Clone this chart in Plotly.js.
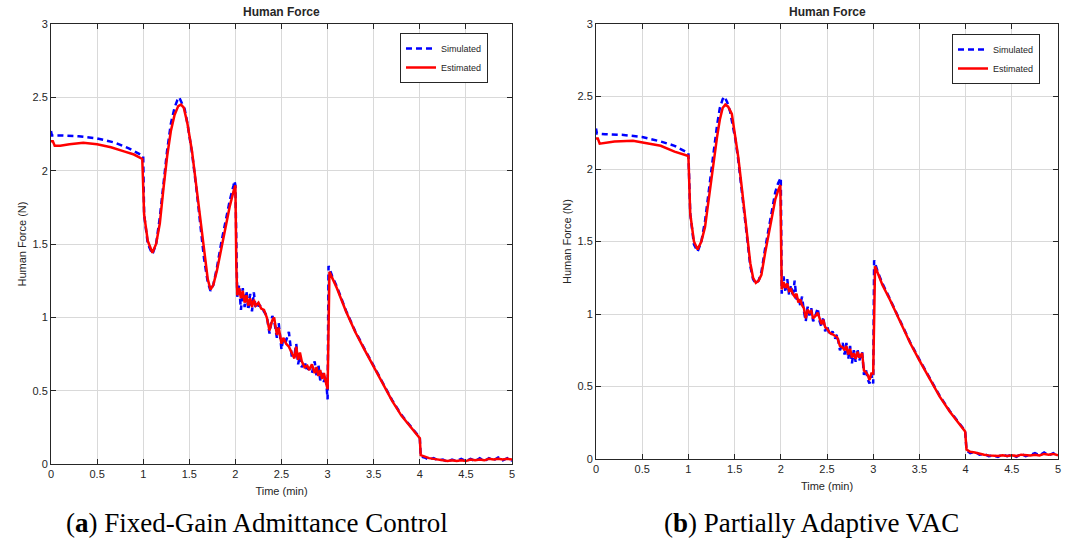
<!DOCTYPE html>
<html>
<head>
<meta charset="utf-8">
<script src="https://cdn.plot.ly/plotly-3.0.1.min.js"></script>
<style>html,body{margin:0;padding:0;background:#fff;}#chart{width:1072px;height:542px;}</style>
</head>
<body>
<div id="chart"></div>
<script>
// ---- Data ----
const tEstA = [0,0.02,0.04,0.1,0.2,0.35,0.5,0.65,0.8,0.9,0.99,1.01,1.05,1.10,1.14,1.18,1.22,1.26,1.30,1.34,1.38,1.41,1.44,1.48,1.53,1.58,1.62,1.66,1.70,1.73,1.76,1.80,1.85,1.90,1.94,1.98,2.00,2.01,2.02,2.04,2.06,2.08,2.10,2.12,2.14,2.16,2.18,2.20,2.22,2.25,2.28,2.31,2.34,2.37,2.40,2.42,2.45,2.47,2.50,2.52,2.55,2.58,2.61,2.64,2.66,2.68,2.70,2.72,2.75,2.78,2.80,2.83,2.86,2.88,2.90,2.92,2.94,2.96,2.98,3.00,3.02,3.05,3.10,3.20,3.30,3.40,3.50,3.60,3.70,3.80,3.90,4.00,4.01,4.05,4.10,4.15,4.20,4.25,4.30,4.35,4.40,4.45,4.50,4.55,4.60,4.65,4.70,4.75,4.80,4.85,4.90,4.95,5.00];
const fEstA = [2.20,2.20,2.17,2.17,2.18,2.19,2.18,2.16,2.13,2.11,2.08,1.70,1.52,1.44,1.50,1.64,1.88,2.10,2.27,2.38,2.44,2.45,2.43,2.32,2.13,1.87,1.64,1.43,1.26,1.19,1.22,1.32,1.48,1.64,1.76,1.86,1.90,1.35,1.15,1.20,1.13,1.18,1.10,1.15,1.08,1.13,1.07,1.12,1.08,1.10,1.06,1.05,1.00,0.91,0.98,1.00,0.88,0.93,0.82,0.86,0.82,0.80,0.76,0.72,0.80,0.71,0.76,0.70,0.66,0.67,0.64,0.68,0.62,0.66,0.60,0.64,0.58,0.62,0.56,0.51,1.31,1.27,1.20,1.04,0.90,0.78,0.66,0.54,0.43,0.33,0.25,0.175,0.06,0.05,0.04,0.035,0.03,0.025,0.02,0.025,0.02,0.025,0.02,0.03,0.025,0.03,0.025,0.035,0.03,0.035,0.03,0.035,0.03];

const tSimA = [0,0.01,0.1,0.3,0.5,0.7,0.85,0.98,1.00,1.01,1.05,1.10,1.14,1.18,1.22,1.26,1.30,1.34,1.37,1.39,1.42,1.45,1.48,1.53,1.58,1.62,1.66,1.70,1.73,1.76,1.80,1.85,1.90,1.94,1.98,1.99,2.00,2.01,2.02,2.04,2.06,2.08,2.10,2.12,2.14,2.16,2.18,2.20,2.22,2.25,2.28,2.31,2.34,2.37,2.40,2.42,2.45,2.47,2.50,2.52,2.55,2.58,2.61,2.64,2.66,2.68,2.70,2.72,2.75,2.78,2.80,2.83,2.86,2.88,2.90,2.92,2.94,2.96,2.98,3.00,3.01,3.05,3.10,3.20,3.30,3.40,3.50,3.60,3.70,3.80,3.90,4.00,4.01,4.05,4.10,4.15,4.20,4.25,4.30,4.35,4.40,4.45,4.50,4.55,4.60,4.65,4.70,4.75,4.80,4.85,4.90,4.95,5.00];
const fSimA = [2.27,2.24,2.24,2.235,2.22,2.19,2.15,2.11,2.10,1.70,1.50,1.43,1.50,1.68,1.92,2.14,2.32,2.43,2.48,2.50,2.46,2.42,2.32,2.12,1.86,1.62,1.40,1.24,1.18,1.22,1.34,1.52,1.68,1.80,1.90,1.93,1.90,1.30,1.14,1.22,1.05,1.20,1.07,1.18,1.05,1.16,1.04,1.17,1.06,1.09,1.07,1.04,1.01,0.89,1.01,0.98,0.86,0.96,0.78,0.86,0.84,0.90,0.74,0.74,0.82,0.68,0.74,0.66,0.70,0.63,0.66,0.62,0.70,0.60,0.68,0.57,0.62,0.56,0.60,0.44,1.35,1.28,1.21,1.045,0.905,0.785,0.665,0.545,0.435,0.335,0.255,0.18,0.05,0.045,0.03,0.04,0.025,0.03,0.015,0.03,0.02,0.035,0.02,0.035,0.02,0.04,0.02,0.04,0.025,0.045,0.025,0.04,0.02];

const tEstB = [0,0.02,0.04,0.1,0.2,0.4,0.55,0.7,0.85,0.99,1.00,1.02,1.06,1.10,1.14,1.18,1.22,1.27,1.31,1.34,1.37,1.40,1.43,1.47,1.51,1.54,1.58,1.61,1.64,1.67,1.70,1.73,1.76,1.79,1.83,1.87,1.91,1.94,1.97,1.995,2.01,2.03,2.05,2.07,2.09,2.11,2.13,2.15,2.17,2.19,2.21,2.23,2.25,2.27,2.29,2.31,2.33,2.35,2.38,2.40,2.42,2.44,2.46,2.48,2.50,2.53,2.56,2.59,2.61,2.64,2.67,2.69,2.71,2.73,2.75,2.77,2.79,2.81,2.83,2.85,2.88,2.90,2.92,2.94,2.96,2.98,3.00,3.02,3.05,3.10,3.18,3.30,3.40,3.50,3.615,3.72,3.83,3.92,3.995,4.01,4.05,4.10,4.15,4.20,4.25,4.30,4.35,4.40,4.45,4.50,4.55,4.60,4.65,4.70,4.75,4.80,4.85,4.90,4.95,5.00];
const fEstB = [2.21,2.21,2.175,2.18,2.19,2.195,2.18,2.16,2.12,2.09,2.09,1.69,1.50,1.445,1.50,1.60,1.80,2.02,2.22,2.34,2.42,2.445,2.43,2.38,2.22,2.08,1.86,1.68,1.50,1.35,1.25,1.215,1.23,1.27,1.42,1.56,1.70,1.79,1.85,1.89,1.17,1.22,1.18,1.21,1.16,1.17,1.14,1.12,1.14,1.08,1.10,1.06,1.04,0.97,1.03,1.01,1.02,0.97,0.99,1.01,0.97,0.93,0.96,0.91,0.90,0.87,0.86,0.85,0.84,0.78,0.77,0.75,0.78,0.72,0.76,0.70,0.73,0.69,0.74,0.70,0.73,0.61,0.60,0.58,0.545,0.59,0.59,1.33,1.28,1.20,1.10,0.94,0.80,0.68,0.545,0.43,0.326,0.25,0.19,0.065,0.05,0.045,0.035,0.03,0.025,0.02,0.02,0.025,0.02,0.025,0.02,0.03,0.025,0.025,0.03,0.025,0.035,0.03,0.035,0.025];

const tSimB = [0,0.01,0.1,0.3,0.5,0.7,0.85,0.95,1.00,1.02,1.06,1.10,1.14,1.18,1.22,1.27,1.31,1.34,1.37,1.39,1.42,1.45,1.48,1.51,1.54,1.58,1.61,1.64,1.67,1.70,1.73,1.76,1.79,1.83,1.87,1.91,1.94,1.97,2.00,2.01,2.03,2.05,2.07,2.09,2.11,2.13,2.15,2.17,2.19,2.21,2.23,2.25,2.27,2.29,2.31,2.33,2.35,2.38,2.40,2.42,2.44,2.46,2.48,2.50,2.53,2.56,2.59,2.61,2.64,2.67,2.69,2.71,2.73,2.75,2.77,2.79,2.81,2.83,2.85,2.88,2.90,2.92,2.94,2.96,2.98,3.00,3.01,3.05,3.10,3.18,3.30,3.40,3.50,3.615,3.72,3.83,3.92,3.995,4.01,4.05,4.10,4.15,4.20,4.25,4.30,4.35,4.40,4.45,4.50,4.55,4.60,4.65,4.70,4.75,4.80,4.85,4.90,4.95,5.00];
const fSimB = [2.28,2.245,2.24,2.235,2.22,2.19,2.16,2.13,2.11,1.69,1.48,1.43,1.50,1.64,1.86,2.10,2.30,2.42,2.48,2.50,2.46,2.40,2.30,2.20,2.06,1.84,1.66,1.48,1.33,1.24,1.21,1.23,1.29,1.45,1.60,1.74,1.84,1.90,1.94,1.14,1.26,1.15,1.24,1.13,1.20,1.12,1.23,1.10,1.12,1.06,1.12,1.02,0.95,1.05,0.99,1.04,0.95,1.00,1.04,0.95,0.91,0.98,0.88,0.92,0.85,0.88,0.83,0.86,0.75,0.80,0.72,0.80,0.69,0.78,0.66,0.75,0.67,0.76,0.68,0.74,0.58,0.62,0.55,0.52,0.58,0.52,1.37,1.29,1.21,1.105,0.945,0.805,0.685,0.55,0.435,0.33,0.255,0.195,0.06,0.04,0.05,0.03,0.035,0.02,0.025,0.015,0.03,0.02,0.03,0.015,0.035,0.02,0.03,0.04,0.025,0.045,0.025,0.04,0.02];

const xTicks = [0,0.5,1,1.5,2,2.5,3,3.5,4,4.5,5];
const yTicks = [0,0.5,1,1.5,2,2.5,3];
const seriesNames = ['Simulated','Estimated'];
const panelTitle = 'Human Force';
const xLabel = 'Time (min)';
const yLabel = 'Human Force (N)';
const captions = ['(<b>a</b>) Fixed-Gain Admittance Control','(<b>b</b>) Partially Adaptive VAC'];

// ---- Layout ----
const W = 1072, H = 542;
const px = v => v / W, py = v => 1 - v / H;
const dash = '6px,4px';

const traces = [
  {x: tSimA, y: fSimA, name: seriesNames[0], mode: 'lines', line: {color: '#0000ff', width: 2.5, dash: dash}, xaxis: 'x', yaxis: 'y', legend: 'legend'},
  {x: tEstA, y: fEstA, name: seriesNames[1], mode: 'lines', line: {color: '#ff0000', width: 2.5}, xaxis: 'x', yaxis: 'y', legend: 'legend'},
  {x: tSimB, y: fSimB, name: seriesNames[0], mode: 'lines', line: {color: '#0000ff', width: 2.5, dash: dash}, xaxis: 'x2', yaxis: 'y2', legend: 'legend2'},
  {x: tEstB, y: fEstB, name: seriesNames[1], mode: 'lines', line: {color: '#ff0000', width: 2.5}, xaxis: 'x2', yaxis: 'y2', legend: 'legend2'}
];

const fam = 'Liberation Sans, Arial, sans-serif';
const tickFont = {family: fam, size: 11, color: '#262626'};
function xa(domain, anchor) {
  return {domain: domain, anchor: anchor, range: [0, 5], tickvals: xTicks, ticktext: xTicks.map(String),
    showline: true, linecolor: '#262626', linewidth: 1, mirror: 'allticks', ticks: 'inside', ticklen: 5, tickcolor: '#262626',
    showgrid: true, gridcolor: '#d9d9d9', gridwidth: 1, zeroline: false, tickfont: tickFont,
    title: {text: xLabel, font: {family: fam, size: 11, color: '#262626'}, standoff: 8}};
}
function ya(domain, anchor) {
  return {domain: domain, anchor: anchor, range: [0, 3], tickvals: yTicks, ticktext: yTicks.map(String),
    showline: true, linecolor: '#262626', linewidth: 1, mirror: 'allticks', ticks: 'inside', ticklen: 5, tickcolor: '#262626',
    showgrid: true, gridcolor: '#d9d9d9', gridwidth: 1, zeroline: false, tickfont: tickFont,
    title: {text: yLabel, font: {family: fam, size: 11, color: '#262626'}, standoff: 3}};
}
const legendBase = {bgcolor: '#ffffff', bordercolor: '#262626', borderwidth: 1,
  font: {family: fam, size: 9, color: '#262626'},
  xanchor: 'right', yanchor: 'top', tracegroupgap: 0, itemwidth: 30};

const layout = {
  width: W, height: H, margin: {l: 0, r: 0, t: 0, b: 0}, paper_bgcolor: '#ffffff', plot_bgcolor: '#ffffff',
  showlegend: true,
  xaxis: xa([px(51), px(512)], 'y'),
  yaxis: ya([py(464), py(24)], 'x'),
  xaxis2: xa([px(596), px(1058)], 'y2'),
  yaxis2: ya([py(459), py(24)], 'x2'),
  legend: Object.assign({x: px(488), y: py(33)}, legendBase),
  legend2: Object.assign({x: px(1040), y: py(34)}, legendBase),
  annotations: [
    {text: '<b>' + panelTitle + '</b>', xref: 'paper', yref: 'paper', x: px(281), y: py(12), xanchor: 'center', yanchor: 'middle', showarrow: false,
     font: {family: fam, size: 12, color: '#262626'}},
    {text: '<b>' + panelTitle + '</b>', xref: 'paper', yref: 'paper', x: px(827), y: py(12), xanchor: 'center', yanchor: 'middle', showarrow: false,
     font: {family: fam, size: 12, color: '#262626'}},
    {text: captions[0], xref: 'paper', yref: 'paper', x: px(257), y: py(523), xanchor: 'center', yanchor: 'middle', showarrow: false,
     font: {family: 'Liberation Serif, Times New Roman, serif', size: 27, color: '#000000'}},
    {text: captions[1], xref: 'paper', yref: 'paper', x: px(811), y: py(523), xanchor: 'center', yanchor: 'middle', showarrow: false,
     font: {family: 'Liberation Serif, Times New Roman, serif', size: 27, color: '#000000'}}
  ]
};

Plotly.newPlot('chart', traces, layout, {staticPlot: true, displayModeBar: false});
</script>
</body>
</html>
